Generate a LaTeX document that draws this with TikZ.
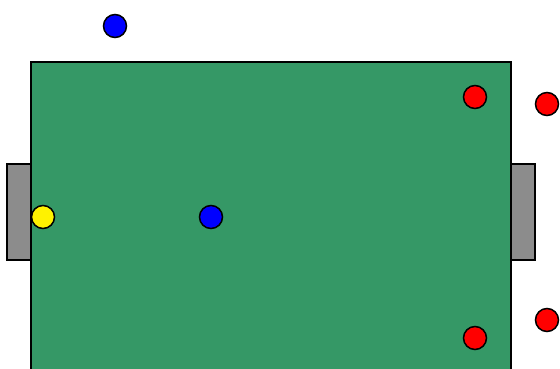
\documentclass[tikz,border=0pt]{standalone}
\definecolor{field}{HTML}{359866}
\definecolor{goalgrey}{HTML}{8C8C8C}
\begin{document}
\begin{tikzpicture}[x=1pt,y=-1pt,
  player/.style={circle,draw=black,line width=1.5pt,minimum size=23pt,inner sep=0pt},
  box/.style={draw=black,line width=1.5pt}]
\useasboundingbox (0,0) rectangle (560,369);
\begin{scope}
\clip (0,0) rectangle (560,369);
\draw[box,fill=goalgrey] (7,164) rectangle (31,260);
\draw[box,fill=goalgrey] (511,164) rectangle (535,260);
\draw[box,fill=field] (31,62) rectangle (511,382);
\node[player,fill=blue] (b1) at (115,26) {};
\node[player,fill=blue] (b2) at (211,217) {};
\node[player,fill=yellow] (y1) at (43,217) {};
\node[player,fill=red] (r1) at (475,97) {};
\node[player,fill=red] (r2) at (547,104) {};
\node[player,fill=red] (r3) at (475,338) {};
\node[player,fill=red] (r4) at (547,320) {};
\end{scope}
\end{tikzpicture}
\end{document}
